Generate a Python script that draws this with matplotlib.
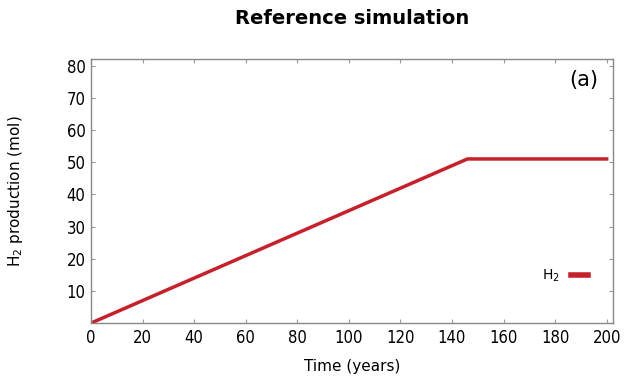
import matplotlib.pyplot as plt
import numpy as np

# reference simulation: H2 production, linear ramp then plateau
time_years = [0, 146, 200]
h2_mol = [0, 51, 51]

xticks = [0, 20, 40, 60, 80, 100, 120, 140, 160, 180, 200]
yticks = [10, 20, 30, 40, 50, 60, 70, 80]

plt.rcParams['font.family'] = ['DejaVu Sans']

fig = plt.figure(figsize=(6.36, 3.77), dpi=100)
ax = fig.add_axes([0.143, 0.143, 0.821, 0.700])

ax.plot(time_years, h2_mol, color='#c8202a', lw=2.5, label='H$_2$')

ax.set_xlim(0, 202.5)
ax.set_ylim(0, 82)
ax.set_xticks(xticks)
ax.set_yticks(yticks)
ax.tick_params(direction='in', length=3, color='#999999', labelsize=12,
               top=True, right=True, pad=4)
for lab in ax.get_xticklabels() + ax.get_yticklabels():
    lab.set_family('DejaVu Sans')
    lab.set_fontstretch('condensed')
for s in ax.spines.values():
    s.set_color('#888888')
    s.set_linewidth(1)

ax.set_xlabel('Time (years)', fontsize=11, labelpad=9)
ax.set_ylabel('H$_2$ production (mol)', fontsize=11, labelpad=30)
fig.text(0.553, 0.95, 'Reference simulation', fontsize=14, fontweight='bold',
         ha='center', va='center')
ax.text(0.972, 0.92, '(a)', transform=ax.transAxes, fontsize=15,
        ha='right', va='center')

leg = ax.legend(loc='lower right', bbox_to_anchor=(0.975, 0.10), frameon=False,
                markerfirst=False, handlelength=1.2, fontsize=10,
                handletextpad=0.8)
for h in leg.get_lines():
    h.set_linewidth(4)

fig.savefig('out.png', dpi=100)
